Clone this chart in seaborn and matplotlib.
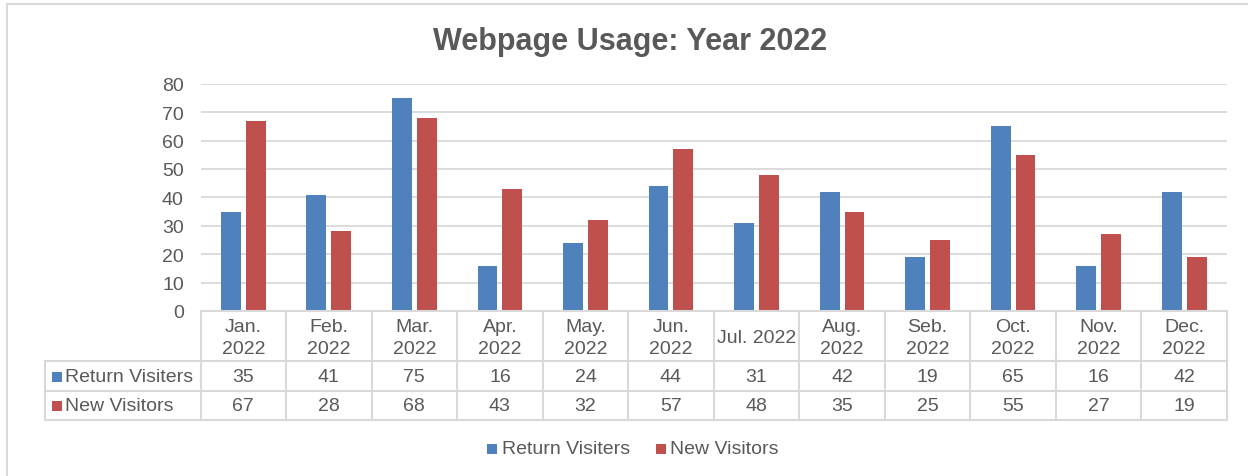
import matplotlib
matplotlib.use("Agg")
import matplotlib.pyplot as plt
import seaborn as sns
import pandas as pd
from matplotlib.lines import Line2D
from matplotlib.patches import Rectangle
from matplotlib.transforms import blended_transform_factory

# Data
months = ["Jan.\n2022", "Feb.\n2022", "Mar.\n2022", "Apr.\n2022", "May.\n2022", "Jun.\n2022",
          "Jul. 2022", "Aug.\n2022", "Seb.\n2022", "Oct.\n2022", "Nov.\n2022", "Dec.\n2022"]
return_visiters = [35, 41, 75, 16, 24, 44, 31, 42, 19, 65, 16, 42]
new_visitors = [67, 28, 68, 43, 32, 57, 48, 35, 25, 55, 27, 19]
series_names = ["Return Visiters", "New Visitors"]
series_values = [return_visiters, new_visitors]
colors = ["#4F81BD", "#C0504D"]
y_ticks = [0, 10, 20, 30, 40, 50, 60, 70, 80]
title = "Webpage Usage: Year 2022"

W, H = 1248, 477
TEXT = "#595959"
LINE = "#D9D9D9"
FS = 14

sns.set_theme(style="white")
plt.rcParams["font.family"] = ["Liberation Sans", "DejaVu Sans"]

fig = plt.figure(figsize=(W / 100, H / 100), dpi=100)
fig.patch.set_facecolor("white")


def fx(px):
    return px / W


def fy(py):
    return 1 - py / H


# Chart frame
fig.add_artist(Rectangle((fx(7), fy(H + 20)), fx(W + 40), fy(5) - fy(H + 20),
                         transform=fig.transFigure, fill=False,
                         edgecolor=LINE, linewidth=1.5))

ax = fig.add_axes([fx(200.5), fy(312), fx(1227) - fx(200.5), fy(84.7) - fy(312)])

df = pd.DataFrame({
    "month": months * 2,
    "visits": return_visiters + new_visitors,
    "series": [series_names[0]] * len(months) + [series_names[1]] * len(months),
})
sns.barplot(data=df, x="month", y="visits", hue="series", hue_order=series_names,
            palette=colors, width=0.58, gap=0.2, saturation=1, linewidth=0,
            legend=False, ax=ax)

ax.set_xlim(-0.5, len(months) - 0.5)
ax.set_ylim(0, 80)
ax.set_yticks(y_ticks)
ax.set_xticks([])
ax.set_xlabel("")
ax.set_ylabel("")
ax.tick_params(axis="y", length=0, pad=12, labelsize=FS, labelcolor=TEXT)
for s in ax.spines.values():
    s.set_visible(False)
ax.yaxis.grid(True, color=LINE, linewidth=1.3)
ax.set_axisbelow(True)

# Title
fig.text(fx(630), fy(42), title, ha="center", va="center", fontsize=22,
         fontweight="bold", color=TEXT)

# Data table below the plot
bt = blended_transform_factory(ax.transData, fig.transFigure)
n = len(months)
row_edges = [312, 362, 392, 421]
lw = 1.5

for k in range(n + 1):
    xk = k - 0.5
    fig.add_artist(Line2D([xk, xk], [fy(312), fy(421)], transform=bt,
                          color=LINE, linewidth=lw))
fig.add_artist(Line2D([-0.5, n - 0.5], [fy(312), fy(312)], transform=bt,
                      color=LINE, linewidth=lw))
for ry in row_edges[1:]:
    fig.add_artist(Line2D([fx(45), fx(1227)], [fy(ry), fy(ry)],
                          transform=fig.transFigure, color=LINE, linewidth=lw))
fig.add_artist(Line2D([fx(45), fx(45)], [fy(362), fy(421)],
                      transform=fig.transFigure, color=LINE, linewidth=lw))

for i, m in enumerate(months):
    fig.text(i, fy(338.5), m, transform=bt, ha="center", va="center",
             fontsize=FS, color=TEXT, linespacing=1.4)

row_centers = [377.5, 407]
for name, vals, col, ry in zip(series_names, series_values, colors, row_centers):
    fig.add_artist(Line2D([fx(57)], [fy(ry)], marker="s", markersize=7,
                          markerfacecolor=col, markeredgewidth=0, linestyle="none",
                          transform=fig.transFigure))
    fig.text(fx(65), fy(ry), name, ha="left", va="center", fontsize=FS, color=TEXT)
    for i, v in enumerate(vals):
        fig.text(i, fy(ry), str(v), transform=bt, ha="center", va="center",
                 fontsize=FS, color=TEXT)

# Legend
legend_items = [(492, 502), (661, 670)]
for (mx, tx), name, col in zip(legend_items, series_names, colors):
    fig.add_artist(Line2D([fx(mx)], [fy(450)], marker="s", markersize=7,
                          markerfacecolor=col, markeredgewidth=0, linestyle="none",
                          transform=fig.transFigure))
    fig.text(fx(tx), fy(450), name, ha="left", va="center", fontsize=FS, color=TEXT)

fig.savefig("out.png", dpi=100, facecolor="white")
